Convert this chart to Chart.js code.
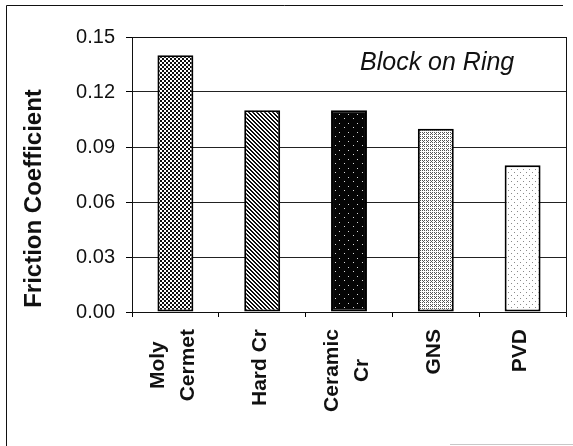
<!DOCTYPE html>
<html>
<head>
<meta charset="utf-8">
<script src="https://cdn.jsdelivr.net/npm/chart.js@4/dist/chart.umd.min.js"></script>
<style>
  html, body { margin: 0; padding: 0; background: #fff; }
  #wrap { width: 573px; height: 446px; }
</style>
</head>
<body>
<div id="wrap"><canvas id="chart" width="573" height="446"></canvas></div>
<script>
/* DATOS */
const categorias = [['Moly', 'Cermet'], ['Hard Cr'], ['Ceramic', 'Cr'], ['GNS'], ['PVD']];
const friccion = [0.14, 0.11, 0.11, 0.10, 0.08];
const ticksY = [0, 0.03, 0.06, 0.09, 0.12, 0.15];
const tituloY = 'Friction Coefficient';
const rotulo = 'Block on Ring';

/* TRAMAS (patrones de relleno) */
function trama(tam, fondo, pintar) {
  const c = document.createElement('canvas');
  c.width = tam; c.height = tam;
  const g = c.getContext('2d');
  g.fillStyle = fondo;
  g.fillRect(0, 0, tam, tam);
  for (let y = 0; y < tam; y++) {
    for (let x = 0; x < tam; x++) {
      const col = pintar(x, y);
      if (col) { g.fillStyle = col; g.fillRect(x, y, 1, 1); }
    }
  }
  return document.getElementById('chart').getContext('2d').createPattern(c, 'repeat');
}

const ctx = document.getElementById('chart').getContext('2d');

const tramas = [
  // cuadriculado fino
  trama(4, '#ffffff', (x, y) => ((Math.floor(x / 2) + Math.floor(y / 2)) % 2 === 0 || (x + y) % 4 === 1 || (x === 3 && y === 3)) ? '#0d0d0d' : null),
  // diagonales
  trama(4, '#ffffff', (x, y) => ((x - y + 8) % 4 < 2) ? '#0d0d0d' : null),
  // negro con motas
  trama(9, '#050505', (x, y) => ((x === 2 && y === 1) || (x === 6 && y === 6)) ? '#dcdcdc' : null),
  // gris claro punteado
  trama(4, '#ffffff', (x, y) => ((x % 2 === 0 && y % 2 === 0) || (x === 3 && y === 1)) ? '#555' : null),
  // puntos dispersos
  trama(6, '#ffffff', (x, y) => ((x === 1 && y === 1) || (x === 4 && y === 4)) ? '#8a8a8a' : null),
];

/* PLUGIN: textos, marco y borde del área */
const extras = {
  id: 'extras',
  afterDraw(chart) {
    const c = chart.ctx;
    const area = chart.chartArea;
    const x = chart.scales.x;
    c.save();

    // borde del área de trazado
    c.strokeStyle = '#111';
    c.lineWidth = 1;
    c.strokeRect(Math.round(area.left) + 0.5, Math.round(area.top) + 0.5,
      Math.round(area.right - area.left), Math.round(area.bottom - area.top));

    // marco exterior
    c.beginPath();
    c.moveTo(6.5, 446); c.lineTo(6.5, 5.5); c.lineTo(563, 5.5);
    c.stroke();
    c.strokeStyle = '#c8c8c8';
    c.beginPath();
    c.moveTo(450, 444.5); c.lineTo(573, 444.5);
    c.stroke();

    // rótulo
    c.fillStyle = '#111';
    c.font = 'italic 25px "Liberation Sans", Arial, sans-serif';
    c.textAlign = 'left';
    c.textBaseline = 'alphabetic';
    c.fillText(rotulo, 360, 70);

    // título eje Y
    c.save();
    c.translate(41, 198.5);
    c.rotate(-Math.PI / 2);
    c.font = 'bold 24px "Liberation Sans", Arial, sans-serif';
    c.textAlign = 'center';
    c.fillText(tituloY, 0, 0);
    c.restore();

    // etiquetas eje X
    c.font = 'bold 21px "Liberation Sans", Arial, sans-serif';
    categorias.forEach((lineas, i) => {
      const cx = x.getPixelForValue(i) - 3;
      const anchoMax = Math.max(...lineas.map(l => c.measureText(l).width));
      const cy = 329 + anchoMax / 2;
      const paso = 29.5;
      lineas.forEach((l, j) => {
        const off = (j - (lineas.length - 1) / 2) * paso;
        c.save();
        c.translate(cx + off, cy);
        c.rotate(-Math.PI / 2);
        c.textAlign = 'center';
        c.textBaseline = 'middle';
        c.fillText(l, 0, 1);
        c.restore();
      });
    });
    c.restore();
  },
};

/* GRÁFICA */
new Chart(ctx, {
  type: 'bar',
  data: {
    labels: categorias.map(l => l.join(' ')),
    datasets: [{
      data: friccion,
      backgroundColor: tramas,
      borderColor: '#000',
      borderWidth: 2,
      borderSkipped: false,
      categoryPercentage: 1,
      barPercentage: 0.414,
    }],
  },
  options: {
    responsive: false,
    animation: false,
    layout: { padding: { top: 37, right: 7, left: 0, bottom: 0 } },
    plugins: {
      legend: { display: false },
      tooltip: { enabled: false },
    },
    scales: {
      y: {
        min: 0,
        max: 0.15,
        afterBuildTicks(scale) { scale.ticks = ticksY.map(v => ({ value: v })); },
        afterFit(scale) { scale.width = 132; },
        border: { color: '#000', width: 1 },
        grid: { color: '#222', lineWidth: 1, tickLength: 6, tickColor: '#000' },
        ticks: {
          padding: 11,
          color: '#111',
          font: { family: '"Liberation Sans", Arial, sans-serif', size: 20 },
          callback: v => v.toFixed(2),
        },
      },
      x: {
        afterFit(scale) { scale.height = 446 - 312; },
        border: { color: '#000', width: 1 },
        grid: { drawOnChartArea: false, drawTicks: true, tickLength: 5, color: '#000', offset: true },
        ticks: { display: false },
      },
    },
  },
  plugins: [extras],
});
</script>
</body>
</html>
